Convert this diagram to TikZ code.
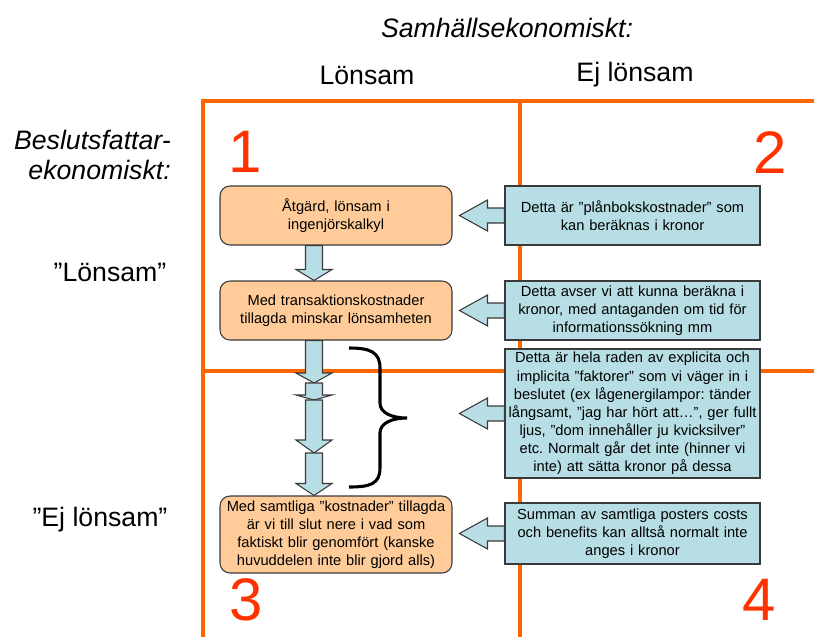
\documentclass[tikz,border=0pt]{standalone}
\usepackage{fontspec}
\setmainfont{Liberation Sans}
\usetikzlibrary{calc}
\frenchspacing
\definecolor{gridorange}{HTML}{FF6600}
\definecolor{numred}{HTML}{FF3300}
\definecolor{boxorange}{HTML}{FFCC99}
\definecolor{boxblue}{HTML}{B7DEE4}
\definecolor{edgegray}{HTML}{3A3A3A}
\newcommand{\lblock}[1]{%
  \draw[blockarrow] ($(#1.west)+(0,-7.5)$) -- ++(-17,0) -- ++(0,-8) -- ++(-28,15.5) -- ++(28,15.5) -- ++(0,-8) -- ++(17,0) -- cycle;}
\newcommand{\dblock}[3]{%
  \draw[blockarrow] ($(#1)+(-8.5,0)$) -- ($(#1)+(8.5,0)$) -- ($(#2)+(8.5,-#3)$) -- ($(#2)+(18,-#3)$) -- (#2) -- ($(#2)+(-18,-#3)$) -- ($(#2)+(-8.5,-#3)$) -- cycle;}
\begin{document}
\begin{tikzpicture}[x=0.75pt,y=-0.75pt,
  gridline/.style={draw=gridorange,line width=3pt},
  num/.style={text=numred,font=\fontsize{45pt}{45pt}\selectfont,inner sep=0pt},
  head/.style={font=\fontsize{20pt}{22.5pt}\selectfont,inner sep=0pt},
  headit/.style={font=\fontsize{20pt}{22.5pt}\selectfont\itshape,inner sep=0pt},
  obox/.style={draw=edgegray,fill=boxorange,rounded corners=7.5pt,line width=0.8pt,
    minimum width=174pt,text width=172pt,align=center,inner sep=1pt,
    font=\fontsize{11pt}{13.6pt}\selectfont},
  bbox/.style={draw=edgegray,fill=boxblue,line width=0.8pt,
    minimum width=191.25pt,text width=189pt,align=center,inner sep=1pt,
    font=\fontsize{11pt}{13.6pt}\selectfont},
  blockarrow/.style={draw=edgegray,fill=boxblue,line width=0.8pt},
  bracestyle/.style={draw=black,line width=2.3pt}
]
\useasboundingbox (0,0) rectangle (814,637);

% grid
\draw[gridline] (203,637) -- (203,101) -- (814,101);
\draw[gridline] (520,101) -- (520,637);
\draw[gridline] (203,371) -- (814,371);

% headers
\node[headit] (title) at (507,28) {Samhällsekonomiskt:};
\node[head] (col1) at (367,75) {Lönsam};
\node[head] (col2) at (635,75) {Ej lönsam};
\node[headit,anchor=east,align=right] (rowtitle) at (171,155) {Beslutsfattar-\\ekonomiskt:};
\node[head] (row1) at (110,272) {”Lönsam”};
\node[head] (row2) at (100,520) {”Ej lönsam”};

% quadrant numbers
\node[num] (n1) at (245,152) {1};
\node[num] (n2) at (770,153) {2};
\node[num] (n3) at (246,600) {3};
\node[num] (n4) at (759,600) {4};

% orange boxes
\node[obox,minimum height=44.25pt] (o1) at (336,215.5) {Åtgärd, lönsam i\\ingenjörskalkyl};
\node[obox,minimum height=44.25pt] (o2) at (336,310.5) {Med transaktionskostnader\\tillagda minskar lönsamheten};
\node[obox,minimum height=57.75pt] (o3) at (336,534.5) {Med samtliga ”kostnader” tillagda\\är vi till slut nere i vad som\\faktiskt blir genomfört (kanske\\huvuddelen inte blir gjord alls)};

% blue boxes
\node[bbox,minimum height=44.25pt] (b1) at (632.5,215.5) {Detta är ”plånbokskostnader” som\\kan beräknas i kronor};
\node[bbox,minimum height=44.25pt] (b2) at (632.5,310.5) {Detta avser vi att kunna beräkna i\\kronor, med antaganden om tid för\\informationssökning mm};
\node[bbox,minimum height=96.75pt] (b3) at (632.5,413.5) {Detta är hela raden av explicita och\\implicita ”faktorer” som vi väger in i\\beslutet (ex lågenergilampor: tänder\\långsamt, ”jag har hört att…”, ger fullt\\ljus, ”dom innehåller ju kvicksilver”\\etc. Normalt går det inte (hinner vi\\inte) att sätta kronor på dessa};
\node[bbox,minimum height=45.75pt] (b4) at (632.5,533.5) {Summan av samtliga posters costs\\och benefits kan alltså normalt inte\\anges i kronor};

% left block arrows
\lblock{b1}
\lblock{b2}
\lblock{b3}
\lblock{b4}

% down block arrows
\coordinate (s1) at ($(o1.south)+(-22,0)$);
\coordinate (t1) at ($(o2.north)+(-22,0)$);
\coordinate (s2) at ($(o2.south)+(-22,0)$);
\coordinate (m1) at (314,383);
\coordinate (m2) at (314,400);
\coordinate (m3) at (314,453);
\coordinate (t4) at ($(o3.north)+(-22,0)$);
\dblock{s1}{t1}{11}
\dblock{s2}{m1}{10}
\dblock{m1}{m2}{5}
\dblock{m2}{m3}{13}
\dblock{m3}{t4}{12}

% brace
\draw[bracestyle] (349,348) .. controls (370,348) and (380,352) .. (380,368) -- (380,403)
  .. controls (380,413) and (392,418) .. (407,418)
  .. controls (392,418) and (380,423) .. (380,433) -- (380,468)
  .. controls (380,484) and (370,487) .. (349,487);
\end{tikzpicture}
\end{document}
